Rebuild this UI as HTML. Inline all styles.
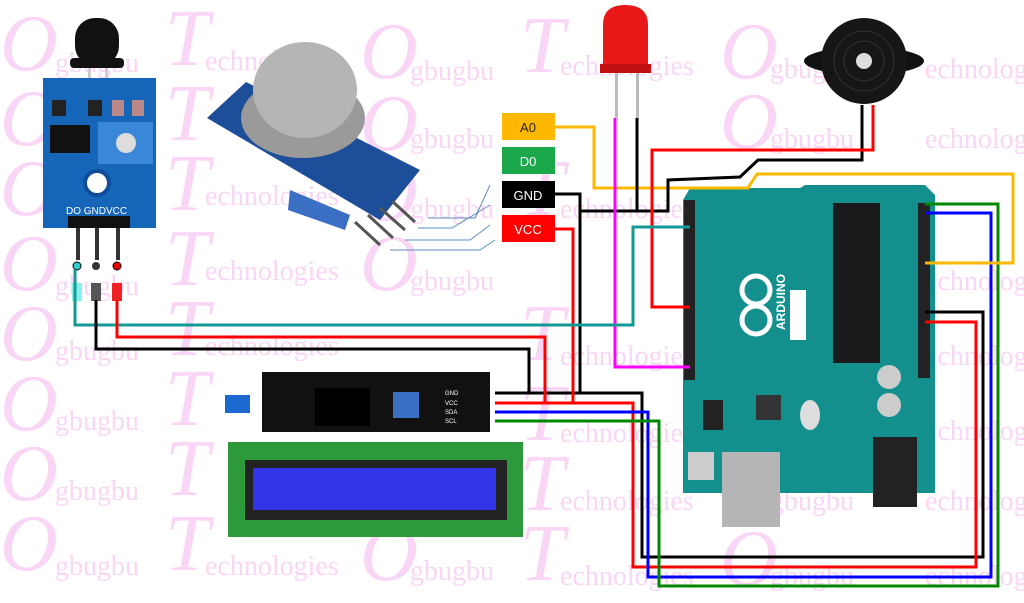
<!DOCTYPE html>
<html><head><meta charset="utf-8"><style>
html,body{margin:0;padding:0;background:#fff;width:1024px;height:603px;overflow:hidden}
svg{display:block}
.wm{font-family:"Liberation Serif",serif;fill:#f9d6f5;font-style:italic}
.ws{font-family:"Liberation Serif",serif;fill:#f9d6f5;font-size:28px}
</style></head><body>
<svg width="1024" height="603" viewBox="0 0 1024 603" xmlns="http://www.w3.org/2000/svg">
<g>
<text class="wm" x="0" y="70" font-size="80">O</text><text class="ws" x="55" y="72">gbugbu</text>
<text class="wm" x="165" y="65" font-size="80">T</text><text class="ws" x="205" y="70">echnologies</text>
<text class="wm" x="360" y="78" font-size="80">O</text><text class="ws" x="410" y="80">gbugbu</text>
<text class="wm" x="520" y="72" font-size="80">T</text><text class="ws" x="560" y="75">echnologies</text>
<text class="wm" x="720" y="78" font-size="80">O</text><text class="ws" x="770" y="78">gbugbu</text>
<text class="ws" x="925" y="78">echnolog</text>
<text class="wm" x="0" y="145" font-size="80">O</text>
<text class="wm" x="165" y="140" font-size="80">T</text>
<text class="wm" x="360" y="150" font-size="80">O</text><text class="ws" x="410" y="148">gbugbu</text>
<text class="wm" x="720" y="148" font-size="80">O</text><text class="ws" x="770" y="148">gbugbu</text>
<text class="ws" x="925" y="148">echnolog</text>
<text class="wm" x="0" y="215" font-size="80">O</text>
<text class="wm" x="165" y="210" font-size="80">T</text><text class="ws" x="205" y="205">echnologies</text>
<text class="wm" x="360" y="220" font-size="80">O</text><text class="ws" x="410" y="218">gbugbu</text>
<text class="wm" x="520" y="215" font-size="80">T</text><text class="ws" x="560" y="218">echnologies</text>
<text class="wm" x="0" y="290" font-size="80">O</text><text class="ws" x="55" y="295">gbugbu</text>
<text class="wm" x="165" y="285" font-size="80">T</text><text class="ws" x="205" y="280">echnologies</text>
<text class="wm" x="360" y="290" font-size="80">O</text><text class="ws" x="410" y="290">gbugbu</text>
<text class="ws" x="925" y="290">echnolog</text>
<text class="wm" x="0" y="360" font-size="80">O</text><text class="ws" x="55" y="360">gbugbu</text>
<text class="wm" x="165" y="355" font-size="80">T</text><text class="ws" x="205" y="355">echnologies</text>
<text class="wm" x="520" y="360" font-size="80">T</text><text class="ws" x="560" y="365">echnologies</text>
<text class="ws" x="925" y="365">echnolog</text>
<text class="wm" x="0" y="430" font-size="80">O</text><text class="ws" x="55" y="430">gbugbu</text>
<text class="wm" x="165" y="425" font-size="80">T</text>
<text class="wm" x="520" y="440" font-size="80">T</text><text class="ws" x="560" y="442">echnologies</text>
<text class="ws" x="925" y="440">echnolog</text>
<text class="wm" x="0" y="500" font-size="80">O</text><text class="ws" x="55" y="500">gbugbu</text>
<text class="wm" x="165" y="495" font-size="80">T</text>
<text class="wm" x="520" y="510" font-size="80">T</text><text class="ws" x="560" y="510">echnologies</text>
<text class="ws" x="770" y="510">gbugbu</text>
<text class="ws" x="925" y="510">echnolog</text>
<text class="wm" x="0" y="570" font-size="80">O</text><text class="ws" x="55" y="575">gbugbu</text>
<text class="wm" x="165" y="570" font-size="80">T</text><text class="ws" x="205" y="575">echnologies</text>
<text class="wm" x="360" y="580" font-size="80">O</text><text class="ws" x="410" y="580">gbugbu</text>
<text class="wm" x="520" y="580" font-size="80">T</text><text class="ws" x="560" y="585">echnologies</text>
<text class="wm" x="720" y="585" font-size="80">O</text><text class="ws" x="770" y="585">gbugbu</text>
<text class="ws" x="925" y="585">echnolog</text>
</g>

<!-- flame sensor -->
<rect x="75" y="18" width="44" height="48" rx="20" fill="#111"/>
<rect x="70" y="58" width="54" height="10" rx="4" fill="#111"/>
<rect x="88" y="68" width="3" height="18" fill="#ccc"/><rect x="105" y="68" width="3" height="18" fill="#ccc"/>
<rect x="43" y="78" width="113" height="150" fill="#1565b8"/>
<rect x="50" y="125" width="40" height="28" fill="#111"/>
<rect x="98" y="122" width="55" height="42" fill="#3a86d8"/>
<circle cx="126" cy="143" r="10" fill="#ddd"/>
<circle cx="97" cy="183" r="12" fill="#fff" stroke="#0d4d99" stroke-width="4"/>
<rect x="52" y="100" width="14" height="16" fill="#222"/><rect x="88" y="100" width="14" height="16" fill="#222"/>
<rect x="112" y="100" width="12" height="16" fill="#b88"/><rect x="132" y="100" width="12" height="16" fill="#b88"/>
<text x="66" y="214" font-family="Liberation Sans,sans-serif" font-size="10" fill="#fff">DO GNDVCC</text>
<rect x="68" y="216" width="62" height="12" fill="#111"/>
<rect x="76" y="228" width="4" height="32" fill="#333"/><rect x="95" y="228" width="4" height="32" fill="#333"/><rect x="116" y="228" width="4" height="32" fill="#333"/>
<circle cx="77" cy="266" r="4" fill="#3cc" stroke="#000"/><circle cx="96" cy="266" r="4" fill="#333"/><circle cx="117" cy="266" r="4" fill="#e00" stroke="#000"/>
<rect x="72" y="283" width="10" height="18" fill="#8ee"/><rect x="91" y="283" width="10" height="18" fill="#555"/><rect x="112" y="283" width="10" height="18" fill="#e22"/>

<!-- gas sensor -->
<polygon points="207,118 246,82 420,170 380,220" fill="#1c4e9a"/>
<polygon points="290,190 350,215 345,230 288,210" fill="#3a6fc4"/>
<ellipse cx="303" cy="118" rx="62" ry="40" fill="#9a9a9a"/>
<ellipse cx="305" cy="90" rx="52" ry="48" fill="#b5b5b5"/>
<g stroke="#555" stroke-width="3"><line x1="355" y1="222" x2="380" y2="245"/><line x1="368" y1="215" x2="393" y2="238"/><line x1="380" y1="208" x2="405" y2="230"/><line x1="392" y1="201" x2="415" y2="222"/></g>
<g stroke="#5b8fc0" stroke-width="1" fill="none"><polyline points="428,218 475,218 490,185"/><polyline points="418,228 452,228 490,205"/><polyline points="405,240 470,240 490,225"/><polyline points="390,250 480,250 495,240"/></g>

<g font-family="Liberation Sans,sans-serif" font-size="13" text-anchor="middle" fill="#fff">
<rect x="502" y="113" width="53" height="27" fill="#ffb800"/><text x="528" y="132" fill="#222">A0</text>
<rect x="502" y="147" width="53" height="27" fill="#1aa84a"/><text x="528" y="166">D0</text>
<rect x="502" y="181" width="53" height="27" fill="#000"/><text x="528" y="200">GND</text>
<rect x="502" y="215" width="53" height="27" fill="#f00"/><text x="528" y="234">VCC</text>
</g>

<!-- LED -->
<rect x="615" y="70" width="3" height="48" fill="#bbb"/><rect x="636" y="70" width="3" height="48" fill="#bbb"/>
<path d="M603 70 L603 25 Q603 5 625 5 Q648 5 648 25 L648 70 Z" fill="#e81818"/>
<rect x="600" y="64" width="51" height="9" fill="#c01010"/>

<!-- buzzer -->
<ellipse cx="864" cy="61" rx="60" ry="14" fill="#111"/>
<circle cx="864" cy="61" r="43" fill="#161616"/>
<circle cx="864" cy="61" r="30" fill="none" stroke="#333"/><circle cx="864" cy="61" r="20" fill="none" stroke="#333"/>
<circle cx="864" cy="61" r="8" fill="#ddd"/>

<!-- Arduino -->
<path d="M683 200 L690 188 L800 188 L805 185 L925 185 L935 195 L935 493 L683 493 Z" fill="#13908d"/>
<rect x="684" y="200" width="11" height="180" fill="#222"/>
<rect x="918" y="203" width="12" height="175" fill="#222"/>
<rect x="833" y="203" width="47" height="160" fill="#1a1a1a"/>
<circle cx="756" cy="290" r="14" fill="none" stroke="#fff" stroke-width="5"/><circle cx="756" cy="320" r="14" fill="none" stroke="#fff" stroke-width="5"/>
<text x="785" y="330" transform="rotate(-90 785 330)" font-family="Liberation Sans,sans-serif" font-size="12" font-weight="bold" fill="#fff">ARDUINO</text>
<rect x="790" y="290" width="16" height="50" fill="#fff"/>
<rect x="756" y="395" width="25" height="25" fill="#333"/>
<ellipse cx="810" cy="415" rx="10" ry="15" fill="#ddd"/>
<circle cx="889" cy="377" r="12" fill="#ccc"/><circle cx="889" cy="405" r="12" fill="#ccc"/>
<rect x="722" y="452" width="58" height="75" fill="#b5b5b5"/>
<rect x="873" y="437" width="44" height="70" fill="#222"/>
<rect x="688" y="452" width="26" height="28" fill="#ccc"/>
<rect x="703" y="400" width="20" height="30" fill="#222"/>

<!-- LCD -->
<rect x="262" y="372" width="228" height="60" fill="#111"/>
<rect x="225" y="395" width="25" height="18" fill="#1c6ad0"/>
<rect x="315" y="388" width="55" height="38" fill="#000"/>
<rect x="393" y="392" width="26" height="26" fill="#3a6fc4"/>
<g font-family="Liberation Sans,sans-serif" font-size="6" fill="#fff"><text x="445" y="395">GND</text><text x="445" y="405">VCC</text><text x="445" y="414">SDA</text><text x="445" y="423">SCL</text></g>
<rect x="228" y="442" width="295" height="95" fill="#2c9a3a"/>
<rect x="245" y="460" width="262" height="60" fill="#222"/>
<rect x="253" y="468" width="243" height="42" fill="#3333e8"/>

<g fill="none" stroke-width="3">
<polyline stroke="#000" points="495,393 642,393 642,557 983,557 983,312 925,312"/>
<polyline stroke="#f00" points="495,403 633,403 633,567 976,567 976,322 925,322"/>
<polyline stroke="#00f" points="495,412 648,412 648,577 991,577 991,213 925,213"/>
<polyline stroke="#080" points="495,421 659,421 659,586 998,586 998,204 925,204"/>
<polyline stroke="#ffb800" points="555,127 594,127 594,188 748,188 757,174 1013,174 1013,263 925,263"/>
<polyline stroke="#000" points="555,194 580,194 580,393"/>
<polyline stroke="#000" points="580,211 668,211 668,180 740,177 758,160 862,160 862,105"/>
<polyline stroke="#000" points="637,118 637,211"/>
<polyline stroke="#f00" points="555,229 573,229 573,403"/>
<polyline stroke="#f00" points="873,105 873,150 652,150 652,307 690,307"/>
<polyline stroke="#f0f" points="615,118 615,367 690,367"/>
<polyline stroke="#139a94" points="690,227 633,227 633,325 75,325 75,270"/>
<polyline stroke="#f00" points="117,300 117,337 545,337 545,403"/>
<polyline stroke="#000" points="96,300 96,349 529,349 529,393"/>
</g>
</svg>
</body></html>
